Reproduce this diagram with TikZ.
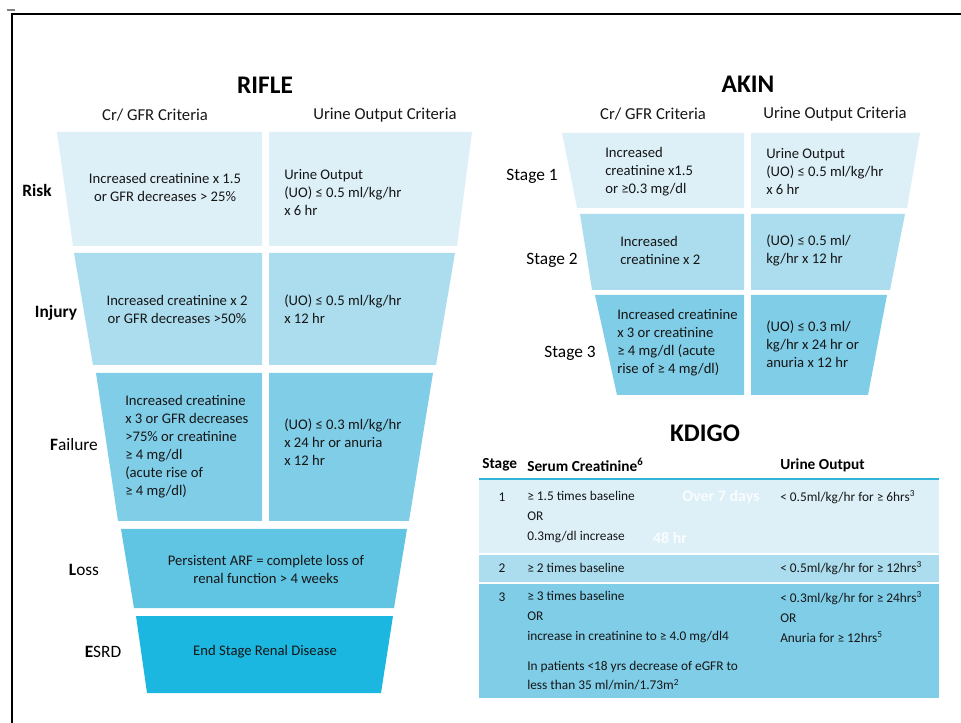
\documentclass[tikz,border=0pt]{standalone}
\usepackage{fontspec}
\setmainfont{Carlito}
\definecolor{tierone}{RGB}{221,240,248}
\definecolor{tiertwo}{RGB}{172,221,238}
\definecolor{tierthree}{RGB}{128,205,231}
\definecolor{tierfour}{RGB}{96,196,227}
\definecolor{tierfive}{RGB}{27,183,224}
\definecolor{inktext}{RGB}{22,22,22}
\definecolor{rulecyan}{RGB}{50,180,214}
\tikzset{
  heading/.style={font=\fontsize{19}{22}\selectfont\bfseries},
  colhead/.style={font=\fontsize{12.5}{15}\selectfont, text=inktext},
  grade/.style={font=\fontsize{13}{15}\selectfont},
  cell/.style={font=\fontsize{11}{13.5}\selectfont, text=inktext, inner sep=0pt},
  kcell/.style={font=\fontsize{10}{15}\selectfont, text=inktext, inner sep=0pt, anchor=west, align=left},
  khead/.style={font=\fontsize{11.5}{13}\selectfont\bfseries, inner sep=0pt, anchor=west},
  ghost/.style={font=\fontsize{12}{14}\selectfont\bfseries, text=white, text opacity=0.85}
}
\begin{document}
\begin{tikzpicture}[x=0.75pt,y=-0.75pt]
\useasboundingbox (0,0) rectangle (961,723);
\fill[white] (0,0) rectangle (961,723);
\draw[line width=2pt] (12,723) -- (12,14) -- (961,14);
\draw[gray, line width=0.8pt] (7,10) -- (15,10);

% RIFLE
\node[heading] (rifle) at (265,85) {RIFLE};
\node[colhead] (riflecr) at (155,115) {Cr/ GFR Criteria};
\node[colhead] (rifleuo) at (385,115) {Urine Output Criteria};
\fill[tierone] (57,132) -- (262,132) -- (262,246) -- (73,246) -- cycle;
\fill[tierone] (269,132) -- (472,132) -- (457,246) -- (269,246) -- cycle;
\fill[tiertwo] (74,253) -- (262,253) -- (262,365) -- (93,365) -- cycle;
\fill[tiertwo] (269,253) -- (455,253) -- (436,365) -- (269,365) -- cycle;
\fill[tierthree] (96,373) -- (262,373) -- (262,521) -- (118,521) -- cycle;
\fill[tierthree] (269,373) -- (433,373) -- (409,521) -- (269,521) -- cycle;
\fill[tierfour] (121,529) -- (407,529) -- (394,608) -- (134,608) -- cycle;
\fill[tierfive] (136,616) -- (393,616) -- (381,693) -- (147,693) -- cycle;
\node[grade, font=\fontsize{13}{15}\selectfont\bfseries] (risk) at (37,190) {Risk};
\node[grade, font=\fontsize{13}{15}\selectfont\bfseries] (injury) at (56,313) {Injury};
\node[grade] (failure) at (74,445) {\textbf{F}ailure};
\node[grade] (loss) at (84,570) {\textbf{L}oss};
\node[grade] (esrd) at (103,652) {\textbf{E}SRD};
\node[cell, align=center] (riskcr) at (165,187) {Increased creatinine x 1.5\\or GFR decreases > 25\%};
\node[cell, align=left, anchor=west] (riskuo) at (284,193) {Urine Output\\(UO) ≤ 0.5 ml/kg/hr\\x 6 hr};
\node[cell, align=center] (injurycr) at (177,309) {Increased creatinine x 2\\or GFR decreases >50\%};
\node[cell, align=left, anchor=west] (injuryuo) at (284,309) {(UO) ≤ 0.5 ml/kg/hr\\x 12 hr};
\node[cell, align=left, anchor=west] (failurecr) at (125,447) {Increased creatinine\\x 3 or GFR decreases\\>75\% or creatinine\\≥ 4 mg/dl\\(acute rise of\\≥ 4 mg/dl)};
\node[cell, align=left, anchor=west] (failureuo) at (284,442) {(UO) ≤ 0.3 ml/kg/hr\\x 24 hr or anuria\\x 12 hr};
\node[cell, align=center] (losstext) at (266,569) {Persistent ARF = complete loss of\\renal function > 4 weeks};
\node[cell] (esrdtext) at (265,652) {End Stage Renal Disease};

% AKIN
\node[heading] (akin) at (748,84) {AKIN};
\node[colhead] (akincr) at (653,114) {Cr/ GFR Criteria};
\node[colhead] (akinuo) at (835,114) {Urine Output Criteria};
\fill[tierone] (562,133) -- (744,133) -- (744,208) -- (577,208) -- cycle;
\fill[tierone] (751,133) -- (920,133) -- (907,208) -- (751,208) -- cycle;
\fill[tiertwo] (580,214) -- (744,214) -- (744,290) -- (592,290) -- cycle;
\fill[tiertwo] (751,214) -- (905,214) -- (890,290) -- (751,290) -- cycle;
\fill[tierthree] (595,295) -- (744,295) -- (744,395) -- (617,395) -- cycle;
\fill[tierthree] (751,295) -- (887,295) -- (868,395) -- (751,395) -- cycle;
\node[grade] (stageone) at (532,176) {Stage 1};
\node[grade] (stagetwo) at (552,260) {Stage 2};
\node[grade] (stagethree) at (570,353) {Stage 3};
\node[cell, align=left, anchor=west] (oneakincr) at (605,172) {Increased\\creatinine x1.5\\or ≥0.3 mg/dl};
\node[cell, align=left, anchor=west] (oneakinuo) at (766,172) {Urine Output\\(UO) ≤ 0.5 ml/kg/hr\\x 6 hr};
\node[cell, align=left, anchor=west] (twoakincr) at (620,250) {Increased\\creatinine x 2};
\node[cell, align=left, anchor=west] (twoakinuo) at (766,250) {(UO) ≤ 0.5 ml/\\kg/hr x 12 hr};
\node[cell, align=left, anchor=west] (threeakincr) at (617,343) {Increased creatinine\\x 3 or creatinine\\≥ 4 mg/dl (acute\\rise of ≥ 4 mg/dl)};
\node[cell, align=left, anchor=west] (threeakinuo) at (766,344) {(UO) ≤ 0.3 ml/\\kg/hr x 24 hr or\\anuria x 12 hr};

% KDIGO
\node[heading] (kdigo) at (705,433) {KDIGO};
\node[khead] (kstage) at (482,465) {Stage};
\node[khead] (kserum) at (527,465) {Serum Creatinine\textsuperscript{6}};
\node[khead] (kurine) at (780,465) {Urine Output};
\fill[tierone] (479,480) rectangle (939,553);
\fill[tiertwo] (479,555) rectangle (939,582);
\fill[tierthree] (479,584) rectangle (939,698);
\draw[rulecyan, line width=2.2pt] (479,479) -- (939,479);
\node[kcell, anchor=center] (kone) at (502,497) {1};
\node[kcell, anchor=center] (ktwo) at (502,568) {2};
\node[kcell, anchor=center] (kthree) at (502,597) {3};
\node[kcell] (onecr) at (527,517) {≥ 1.5 times baseline\\OR\\0.3mg/dl increase};
\node[kcell] (oneuo) at (780,497) {< 0.5ml/kg/hr for ≥ 6hrs\textsuperscript{3}};
\node[ghost] (overseven) at (721,497) {Over 7 days};
\node[ghost] (fortyeight) at (670,538) {48 hr};
\node[kcell] (twocr) at (527,568) {≥ 2 times baseline};
\node[kcell] (twouo) at (780,568) {< 0.5ml/kg/hr for ≥ 12hrs\textsuperscript{3}};
\node[kcell] (threecr) at (527,617) {≥ 3 times baseline\\OR\\increase in creatinine to ≥ 4.0 mg/dl4};
\node[kcell, font=\fontsize{10}{14.25}\selectfont] (threeped) at (527,676) {In patients <18 yrs decrease of eGFR to\\less than 35 ml/min/1.73m\textsuperscript{2}};
\node[kcell] (threeuo) at (780,617) {< 0.3ml/kg/hr for ≥ 24hrs\textsuperscript{3}\\OR\\Anuria for ≥ 12hrs\textsuperscript{5}};
\end{tikzpicture}
\end{document}
